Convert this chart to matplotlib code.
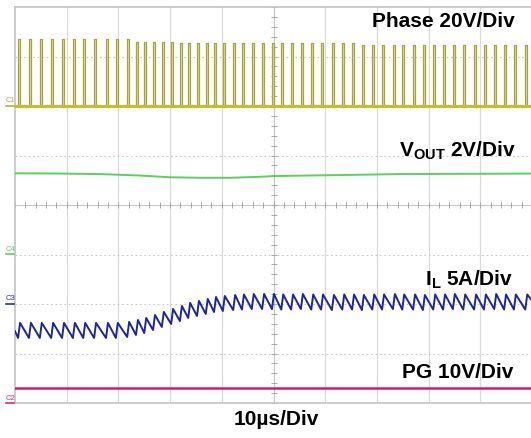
import matplotlib.pyplot as plt
from matplotlib.lines import Line2D

plt.rcParams['font.family'] = ['Liberation Sans', 'DejaVu Sans']

W, H = 531, 438

# switching pulses, time in us from left edge of screen (10 us/div)
pulse_t = [0.6, 2.7, 4.8, 7.0, 9.1, 11.2, 13.2, 15.3, 17.6, 19.5,
           21.7, 23.4, 25.0, 26.7, 28.4, 30.2, 31.9, 33.5, 35.2, 36.9,
           38.5, 40.2, 42.2, 43.9, 45.8, 47.8, 49.7, 51.5, 53.4, 55.3,
           57.3, 59.2, 61.3, 63.3, 65.2, 67.1, 69.1, 71.0, 73.1, 74.9,
           77.0, 78.9, 80.9, 82.8, 84.7, 86.7, 88.8, 90.7, 92.7, 94.6,
           96.5, 98.7]
# phase node peak voltage of each pulse (V)
phase_pk = [26.9] * 11 + [26.0] * 5 + [25.6] * 19 + [24.8] * 17
t_on = 0.38

# inductor current valley at each pulse (A)
il_valley = [-3.43, -3.43, -3.43, -3.43, -3.43, -3.43, -3.43, -3.43, -3.43, -3.43,
             -3.33, -3.13, -2.93, -2.63, -2.32, -2.02, -1.72, -1.41, -1.21, -1.01,
             -0.81, -0.71, -0.61, -0.56, -0.51, -0.51, -0.51, -0.56, -0.56, -0.51,
             -0.56, -0.56, -0.61, -0.56, -0.56, -0.61, -0.56, -0.56, -0.51, -0.56,
             -0.56, -0.61, -0.56, -0.56, -0.51, -0.56, -0.56, -0.56, -0.51, -0.56,
             -0.56, -0.56]
il_ripple = 1.52

vout_t = [0, 8.7, 16.4, 24.2, 30.0, 35.8, 41.6, 47.4, 50.3, 62.8, 74.5, 100]
vout_v = [3.28, 3.27, 3.25, 3.19, 3.12, 3.10, 3.10, 3.14, 3.17, 3.21, 3.25, 3.27]

pg_t = [0, 100]
pg_v = [3.1, 3.1]

# (units per div, ground position in div from bottom)
ch_phase = (20, 6.0)
ch_vout = (2, 3.0)
ch_il = (5, 2.0)
ch_pg = (10, 0.0)


def to_div(vals, ch):
    return [ch[1] + v / ch[0] for v in vals]


fig = plt.figure(figsize=(W / 100, H / 100), dpi=100)
ax = fig.add_axes([15 / W, (H - 403) / H, 517 / W, 396 / H])
ax.set_xlim(0, 100)
ax.set_ylim(0, 8)
ax.set_xticks([])
ax.set_yticks([])
for s in ax.spines.values():
    s.set_color('#c4c4c4')
    s.set_linewidth(1.2)

# graticule
for i in range(1, 10):
    ax.axvline(i * 10, color='#dadada', lw=0.9, zorder=0)
for j in range(1, 8):
    ax.axhline(j, color='#c8c8c8', lw=0.8, ls=(0, (1.5, 2.5)), zorder=0)
ax.axhline(4, color='#c8c8c8', lw=0.8, zorder=0)
ax.axvline(50, color='#c8c8c8', lw=0.8, zorder=0)
xt = [k * 2 for k in range(51)]
ax.plot(xt, [4] * len(xt), ls='', marker='|', ms=4, color='#a8a8a8', mew=0.7, zorder=0)
yt = [k * 0.2 for k in range(41)]
ax.plot([50] * len(yt), yt, ls='', marker='_', ms=4, color='#a8a8a8', mew=0.7, zorder=0)

# phase node
ph_x, ph_y = [0], [0]
for t, pk in zip(pulse_t, phase_pk):
    ph_x += [t, t, t + t_on, t + t_on]
    ph_y += [0, pk, pk, 0]
    ax.fill([t, t, t + t_on, t + t_on], to_div([0, pk, pk, 0], ch_phase),
            color='#dcdcb4', lw=0, zorder=2)
ph_x.append(100)
ph_y.append(0)
ax.plot(ph_x, to_div(ph_y, ch_phase), color='#a6a640', lw=0.9, zorder=3)
ax.plot([0, 100], to_div([0, 0], ch_phase), color='#c4be28', lw=2.2, zorder=3)

# output voltage
ax.plot(vout_t, to_div(vout_v, ch_vout), color='#5ad25a', lw=1.4, zorder=3)

# inductor current
il_x, il_y = [0], [il_valley[0] + il_ripple * 0.45]
for t, v in zip(pulse_t, il_valley):
    il_x += [t, t + t_on]
    il_y += [v, v + il_ripple]
il_x.append(100)
il_y.append(il_valley[-1] + il_ripple * 0.6)
ax.plot(il_x, to_div(il_y, ch_il), color='#1e2890', lw=1.4, zorder=3)

# power good
ax.plot(pg_t, to_div(pg_v, ch_pg), color='#c8206e', lw=1.8, zorder=3)

# channel ground markers
markers = [('C1', ch_phase, '#b4b432'), ('C4', ch_vout, '#5ad25a'),
           ('C3', ch_il, '#2a30a0'), ('C2', ch_pg, '#d0307a')]
for name, ch, col in markers:
    ypx = 403 - ch[1] * 49.5
    fig.text(10 / W, 1 - (ypx - 1.5) / H, name, fontsize=5.5, color=col,
             ha='center', va='bottom')
    fig.add_artist(Line2D([6 / W, 14 / W], [1 - ypx / H] * 2, color=col, lw=1.2,
                          transform=fig.transFigure))

# channel labels
fs = 15
fig.text(515 / W, 1 - 26.7 / H, 'Phase 20V/Div', ha='right', va='baseline',
         fontsize=fs, fontweight='bold')
fig.text(516 / W, 1 - 156.7 / H, r'V$_\mathregular{OUT}$ 2V/Div', ha='right',
         va='baseline', fontsize=fs, fontweight='bold')
fig.text(513 / W, 1 - 285 / H, r'I$_\mathregular{L}$ 5A/Div', ha='right',
         va='baseline', fontsize=fs, fontweight='bold')
fig.text(513 / W, 1 - 378 / H, 'PG 10V/Div', ha='right', va='baseline',
         fontsize=fs, fontweight='bold')
fig.text(276 / W, 1 - 425 / H, '10\u00b5s/Div', ha='center', va='baseline',
         fontsize=fs, fontweight='bold')

fig.savefig('out.png', dpi=100)
